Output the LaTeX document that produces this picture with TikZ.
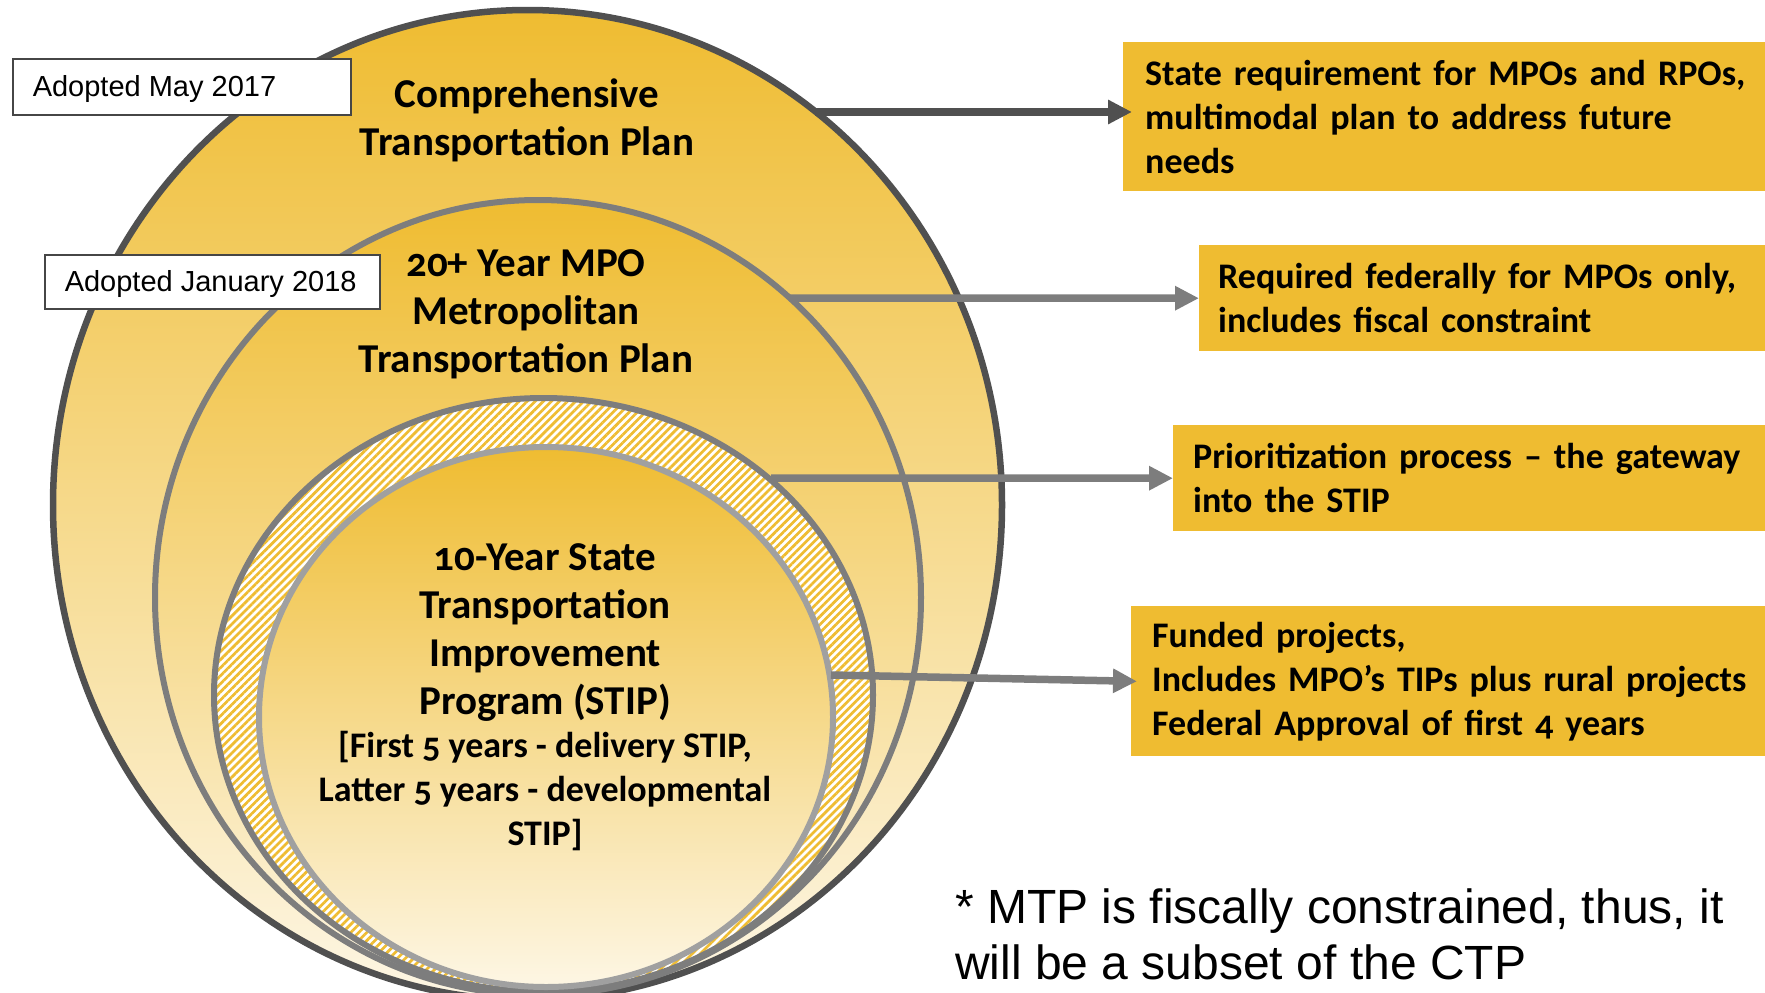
\documentclass[tikz,border=0pt]{standalone}
\usepackage{fontspec}
\setmainfont{Liberation Sans}
\newfontfamily\corfont[Numbers=OldStyle]{Carlito}
\usetikzlibrary{arrows.meta,patterns.meta,shapes.geometric}
\definecolor{gold}{RGB}{239,188,49}
\definecolor{cream}{RGB}{253,246,228}
\definecolor{darkline}{RGB}{80,80,80}
\definecolor{midline}{RGB}{125,125,125}
\definecolor{lightline}{RGB}{160,160,160}
\definecolor{boxline}{RGB}{70,70,70}
\begin{document}
\begin{tikzpicture}[x=1pt,y=-1pt,
  ring/.style={ellipse, inner sep=0pt, outer sep=0pt},
  planfill/.style={top color=gold, bottom color=cream},
  plantext/.style={font=\corfont\bfseries\fontsize{41}{48}\selectfont, align=center, inner sep=0pt},
  subtext/.style={font=\corfont\bfseries\fontsize{36}{44}\selectfont, align=center, inner sep=0pt},
  notebox/.style={anchor=north west, fill=gold, inner ysep=0pt, align=left, font=\corfont\bfseries\fontsize{36}{44}\selectfont},
  datebox/.style={anchor=north west, fill=white, draw=boxline, line width=1.5pt, inner xsep=20pt, inner ysep=0pt, font=\fontsize{29}{34}\selectfont},
  conn/.style={line width=7.5pt, -{Triangle[length=24pt,width=23pt]}},
]
\useasboundingbox (0,0) rectangle (1765,993);

% nested plans
\node[ring, planfill, draw=darkline, line width=6.5pt, minimum width=949pt, minimum height=990pt] (ctp) at (527.5,505) {};
\node[ring, planfill, draw=midline, line width=6pt, minimum width=766pt, minimum height=795pt] (mtp) at (538,597.5) {};
\node[ring, preaction={fill=white}, pattern={Lines[angle=45,distance=5.7pt,line width=2.7pt]}, pattern color=gold, draw=midline, line width=6pt, minimum width=659pt, minimum height=594pt] (prio) at (543.5,695) {};
\node[ring, planfill, draw=lightline, line width=6pt, minimum width=574pt, minimum height=540pt] (stip) at (546,717) {};

% plan titles
\node[plantext] (ctptext) at (527,120) {Comprehensive\\Transportation Plan};
\node[plantext] (mtptext) at (526,314.5) {20+ Year MPO\\Metropolitan\\Transportation Plan};
\node[plantext] (stiptext) at (545,632.5) {10-Year State\\Transportation\\Improvement\\Program (STIP)};
\node[subtext] (stipsub) at (545,791.5) {[First 5 years - delivery STIP,\\Latter 5 years - developmental\\STIP]};

% adoption dates
\node[datebox, minimum height=56pt] (date1) at (12,58) {\makebox[298pt][l]{\raisebox{-2.5pt}[\height][\depth]{Adopted May 2017}}};
\node[datebox, minimum height=54pt] (date2) at (44,254) {\makebox[295pt][l]{\raisebox{-2.5pt}[\height][\depth]{Adopted January 2018}}};

% description boxes
\node[notebox, minimum height=149pt, inner xsep=22pt, text width=640pt] (box1) at (1123,42) {State requirement for MPOs and RPOs,\\multimodal plan to address future\\needs};
\node[notebox, minimum height=106pt, inner xsep=19pt, text width=566pt] (box2) at (1199,245) {Required federally for MPOs only,\\includes fiscal constraint};
\node[notebox, minimum height=106pt, inner xsep=20pt, text width=592pt] (box3) at (1173,425) {Prioritization process – the gateway\\into the STIP};
\node[notebox, minimum height=150pt, inner xsep=21pt, text width=634pt] (box4) at (1131,606) {Funded projects,\\Includes MPO’s TIPs plus rural projects\\Federal Approval of first 4 years};

% connectors
\coordinate (s1) at (815,112);
\coordinate (s2) at (790,298);
\coordinate (s3) at (771,478);
\coordinate (s4) at (831,675);
\draw[conn, darkline, shorten >=-9pt] (s1) -- (s1 -| box1.west);
\draw[conn, midline] (s2) -- (box2.west);
\draw[conn, midline] (s3) -- (box3.west);
\draw[conn, midline, shorten >=-6pt] (s4) -- (box4.west);

% footnote
\node[anchor=base west, align=left, inner sep=0pt, font=\fontsize{48}{56}\selectfont] (note) at (955,979) {* MTP is fiscally constrained, thus, it\\will be a subset of the CTP};
\end{tikzpicture}
\end{document}
